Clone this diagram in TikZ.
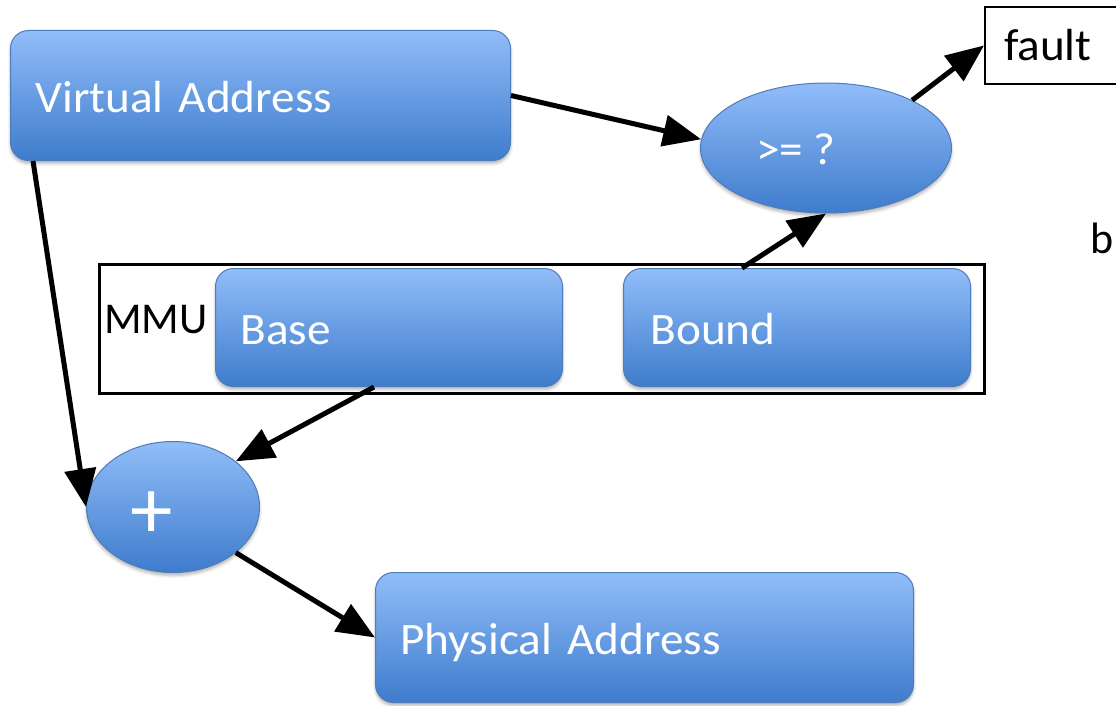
\documentclass[tikz,border=0pt]{standalone}
\usepackage{fontspec}
\setmainfont{Carlito}
\newfontfamily\wide{Carlito}[FakeStretch=1.05]
\usetikzlibrary{arrows.meta,shapes.geometric,shadows.blur}
\definecolor{blueTop}{RGB}{145,189,249}
\definecolor{blueBot}{RGB}{62,124,204}
\definecolor{blueEdge}{RGB}{78,124,186}
\begin{document}
\begin{tikzpicture}[x=1pt,y=-1pt,
  big/.style={font=\fontsize{44}{50}\selectfont},
  bigwide/.style={font=\wide\fontsize{45}{50}\selectfont},
  blob/.style={draw=blueEdge, line width=1pt, top color=blueTop, bottom color=blueBot,
    blur shadow={shadow xshift=0pt, shadow yshift=-3pt, shadow blur radius=3pt, shadow opacity=30}},
  regbox/.style={blob, bigwide, rounded corners=18pt, anchor=north west, inner xsep=25pt, inner ysep=0pt,
    align=left, text=white, text height=34pt, text depth=0pt},
  oval/.style={blob, ellipse, inner sep=0pt},
  arr/.style={line width=5pt, -{Triangle[length=38pt,width=31pt]}}]
\useasboundingbox (0,0) rectangle (1116,706);
\clip (0,0) rectangle (1116,706);

% MMU frame and its label
\node[draw, line width=3pt, anchor=north west, inner sep=0pt,
      minimum width=885pt, minimum height=129pt] (mmu) at (97.5,262.5) {};
\node[big, anchor=base west, inner sep=0pt] (mmulabel) at (104,333) {MMU};

% registers and addresses
\node[regbox, text width=450pt, minimum height=130pt] (va) at (10,30) {Virtual Address};
\node[regbox, text width=297pt, minimum height=118pt] (base) at (215,268) {Base};
\node[regbox, inner xsep=27pt, text width=293pt, minimum height=118pt] (bound) at (623,268) {Bound};
\node[regbox, text width=488pt, minimum height=130pt] (phys) at (375,572) {Physical Address};

% comparator and adder
\node[oval, minimum width=251pt, minimum height=130pt] (cmp) at (826,148) {};
\node[bigwide, text=white, inner sep=0pt] (cmptext) at (796,149) {>= ?};
\node[oval, minimum width=173pt, minimum height=131pt] (plus) at (173,507) {};
\node[text=white, inner sep=0pt, font=\fontsize{85}{90}\selectfont] (plustext) at (152,515) {+};

% fault outcome
\node[draw, line width=2pt, bigwide, anchor=north west, inner xsep=19pt, inner ysep=0pt,
      text width=140pt, align=left, text height=30pt, text depth=0pt,
      minimum height=77pt] (fault) at (984,6) {fault};
\node[big, anchor=base west, inner sep=0pt] (bnote) at (1090,253) {b};

% data flow
\draw[arr] (va.east) -- (cmp.176);
\draw[arr] ([xshift=23pt]va.south west) -- (plus.west);
\draw[arr] ([xshift=-15pt]base.south) -- (plus.36);
\draw[arr] (plus.-36) -- (phys.west);
\draw[arr] ([xshift=-55pt]bound.north) -- (cmp.south);
\draw[arr] (cmp.29) -- (fault.west);
\end{tikzpicture}
\end{document}
